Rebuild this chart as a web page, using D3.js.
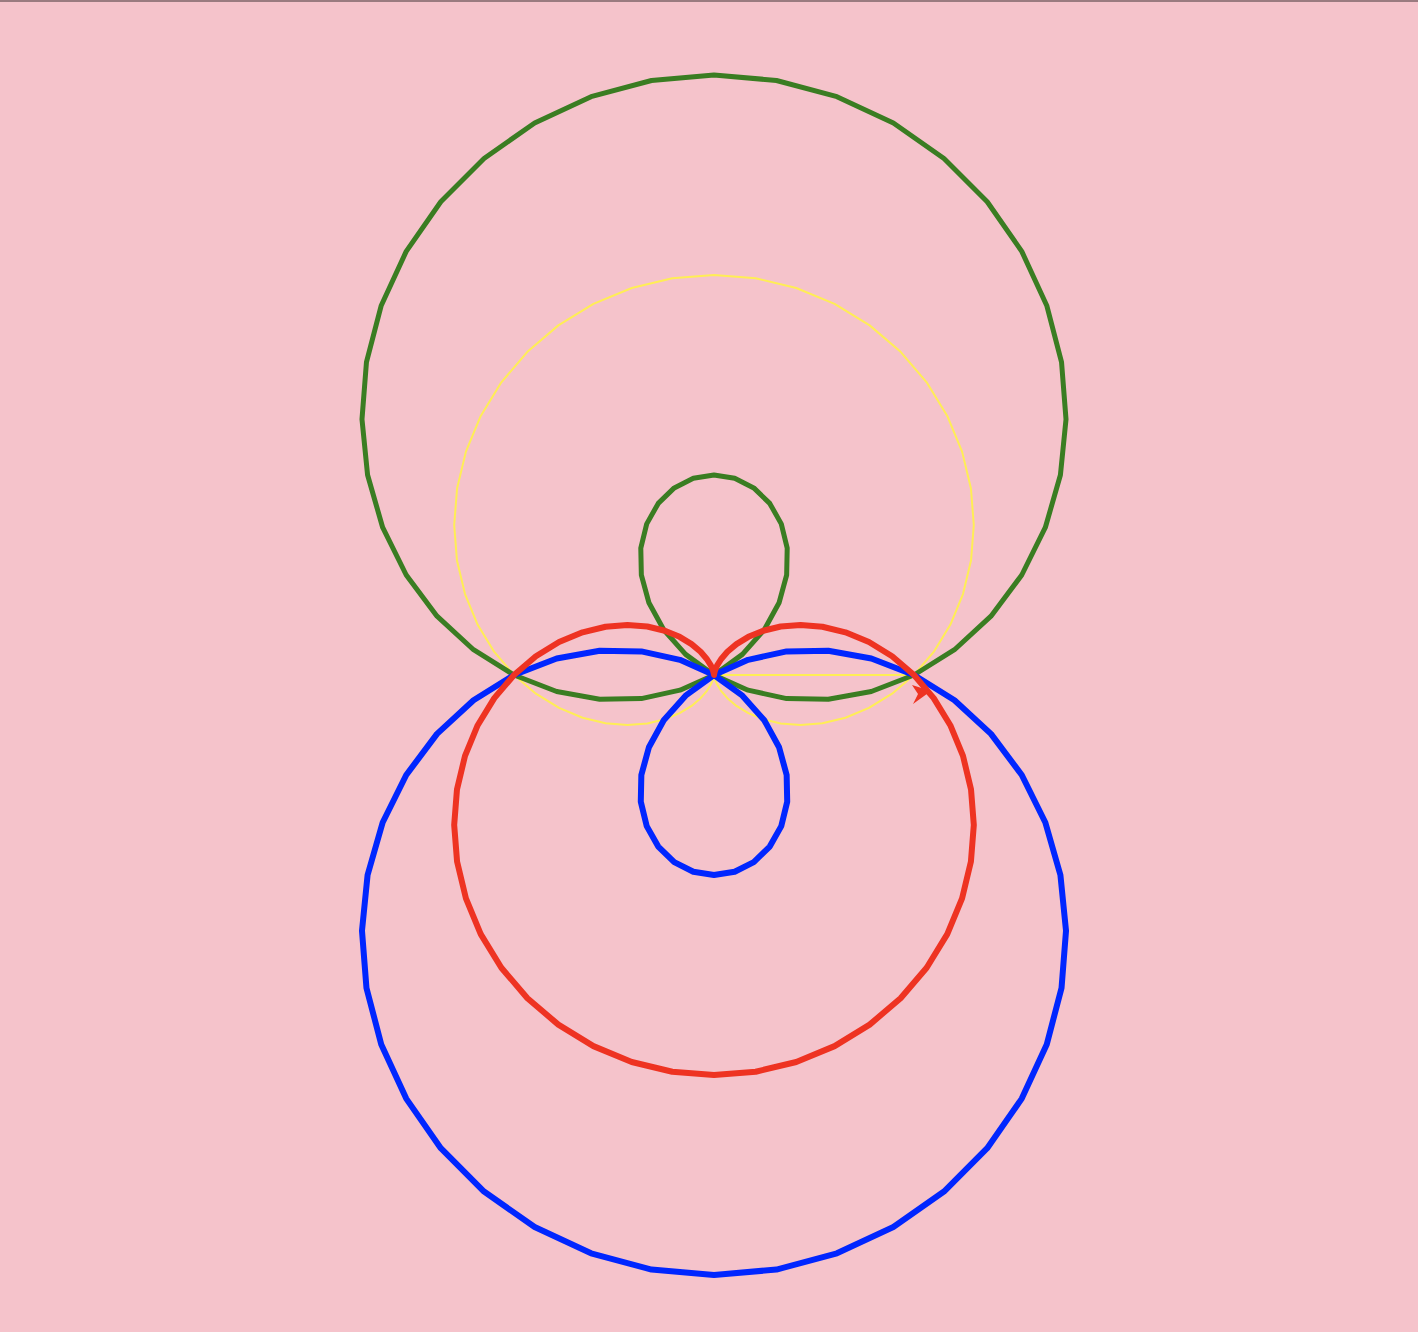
<!DOCTYPE html>
<html>
<head>
<meta charset="utf-8">
<script src="https://cdn.jsdelivr.net/npm/d3@7"></script>
<style>
html,body{margin:0;padding:0;background:#f5c3cb;overflow:hidden;}
svg{display:block;}
</style>
</head>
<body>
<script>
// Polar curves r = constTerm + sinTerm * sin(theta), in units (drawn in this order)
const curveNames = ["yellow", "green", "blue", "red"];
const constTerm  = [1, 1, 1, 1];
const sinTerm    = [1, 2, -2, -1];
const startsAtPole = [true, false, false, false];
const curveColors = ["#ffee55", "#3a7d22", "#0026ff", "#ee3322"];
const curveWidths = [2, 5, 6, 6];
const stepDeg = 6;

const W = 1418, H = 1332;
const cx = 714, cy = 675;
const unitPx = 200;

const svg = d3.select("body").append("svg").attr("width", W).attr("height", H);
svg.append("rect").attr("width", W).attr("height", H).attr("fill", "#f5c3cb");
svg.append("line").attr("x1", 0).attr("x2", W).attr("y1", 1).attr("y2", 1)
  .attr("stroke", "#9a7b80").attr("stroke-width", 2);

const rScale = d3.scaleLinear().domain([0, 1]).range([0, unitPx]);
const color = d3.scaleOrdinal().domain(curveNames).range(curveColors);

const defs = svg.append("defs");
defs.append("marker").attr("id", "arrow")
  .attr("viewBox", "-10 -10 40 50").attr("markerWidth", 40).attr("markerHeight", 50)
  .attr("markerUnits", "userSpaceOnUse").attr("orient", "0").attr("refX", 0).attr("refY", 0)
  .style("overflow", "visible")
  .append("path").attr("d", "M-2,10 L17,16 L-1,29 L4,19 Z").attr("fill", "#ee3322");

const g = svg.append("g").attr("transform", `translate(${cx},${cy})`);
const thetas = d3.range(0, 360 + stepDeg / 2, stepDeg);

const line = d3.lineRadial()
  .angle(d => Math.PI / 2 - d.t)
  .radius(d => rScale(d.r));

curveNames.forEach((name, i) => {
  const pts = thetas.map(deg => {
    const t = deg * Math.PI / 180;
    return { t, r: constTerm[i] + sinTerm[i] * Math.sin(t) };
  });
  if (startsAtPole[i]) pts.unshift({ t: 0, r: 0 });
  const p = g.append("path")
    .attr("d", line(pts))
    .attr("fill", "none")
    .attr("stroke", color(name))
    .attr("stroke-width", curveWidths[i])
    .attr("stroke-linejoin", "round")
    .attr("stroke-linecap", "round");
  if (name === "red") p.attr("marker-end", "url(#arrow)");
});
</script>
</body>
</html>
